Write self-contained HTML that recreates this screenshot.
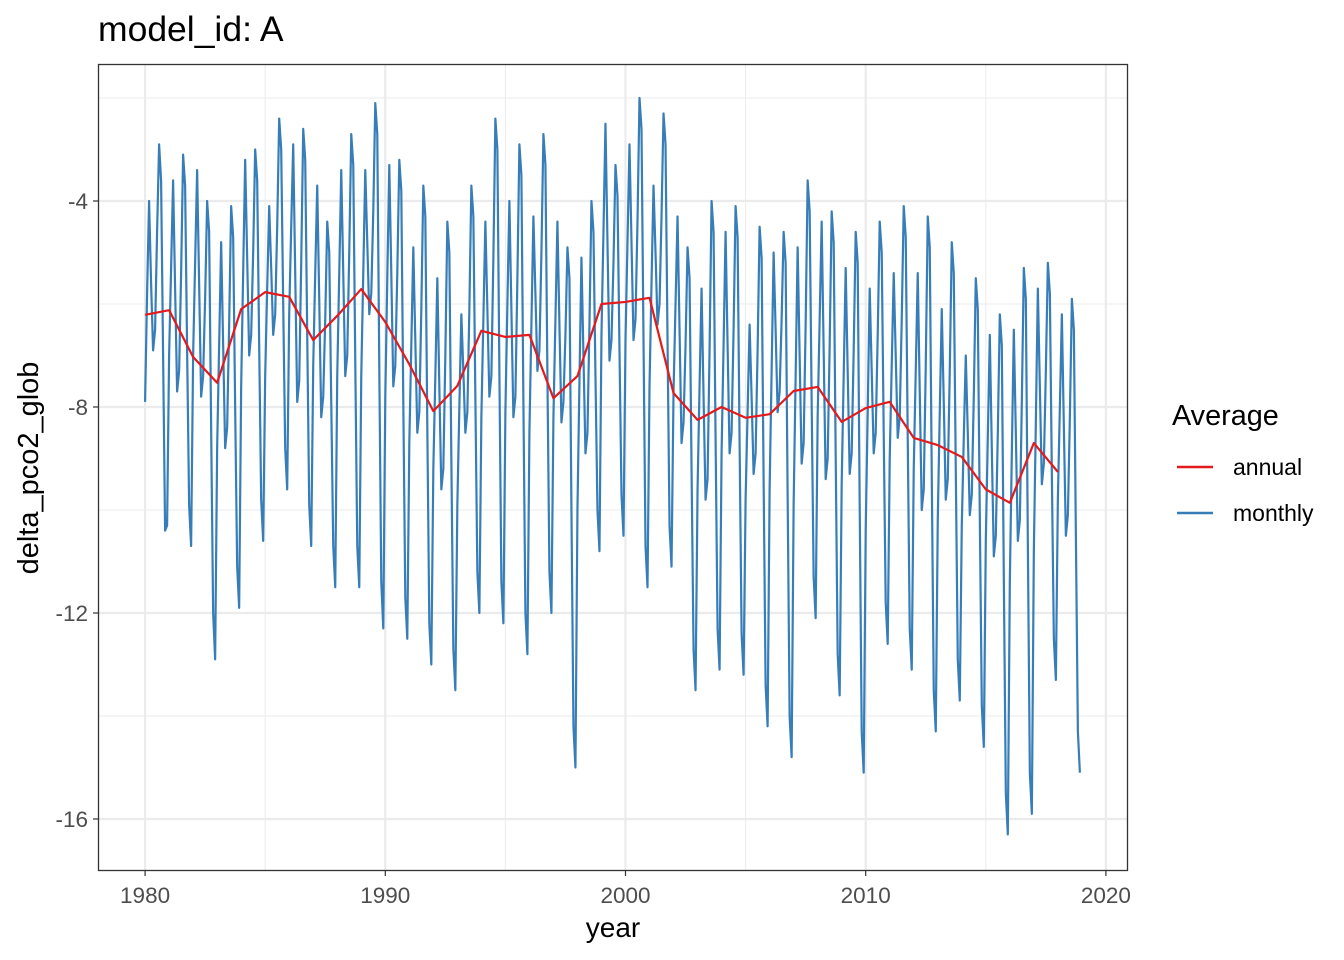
<!DOCTYPE html>
<html><head><meta charset="utf-8"><style>
html,body{margin:0;padding:0;background:#fff;}
svg{display:block;font-family:"Liberation Sans",Arial,sans-serif;}
</style></head><body>
<svg id="chart" width="1344" height="960" viewBox="0 0 1344 960" xmlns="http://www.w3.org/2000/svg">
<rect width="1344" height="960" fill="#fff"/>
<text x="98" y="41" font-size="35.5" fill="#000">model_id: A</text>
<g id="grid"></g>
<g id="series"></g>
<rect x="98.5" y="64.5" width="1029" height="806" fill="none" stroke="#333" stroke-width="1.3"/>
<g id="axes"></g>
<text x="613" y="937" font-size="28" text-anchor="middle" fill="#000">year</text>
<text transform="translate(38,468) rotate(-90)" font-size="29" text-anchor="middle" fill="#000">delta_pco2_glob</text>
<g>
<text x="1172" y="425" font-size="28.8" fill="#000">Average</text>
<line x1="1177" y1="467" x2="1213" y2="467" stroke="#e41a1c" stroke-width="2.4"/>
<text x="1233" y="475" font-size="23" fill="#000">annual</text>
<line x1="1177" y1="513" x2="1213" y2="513" stroke="#377eb8" stroke-width="2.4"/>
<text x="1233" y="521" font-size="23" fill="#000">monthly</text>
</g>
</svg>
<script>
const years = [1980,1981,1982,1983,1984,1985,1986,1987,1988,1989,1990,1991,1992,1993,1994,1995,1996,1997,1998,1999,2000,2001,2002,2003,2004,2005,2006,2007,2008,2009,2010,2011,2012,2013,2014,2015,2016,2017,2018];
const annualValues = [-6.21,-6.12,-7.03,-7.53,-6.10,-5.77,-5.86,-6.70,-6.23,-5.71,-6.35,-7.17,-8.08,-7.59,-6.52,-6.64,-6.60,-7.83,-7.40,-6.00,-5.96,-5.88,-7.73,-8.25,-8.00,-8.21,-8.14,-7.69,-7.61,-8.29,-8.02,-7.90,-8.60,-8.74,-8.97,-9.60,-9.86,-8.70,-9.26];
const monthlyValues = [
-7.9,-5.8,-4.0,-5.6,-6.9,-6.5,-4.6,-2.9,-3.6,-7.0,-10.4,-10.3,
-7.0,-5.3,-3.6,-5.7,-7.7,-7.3,-5.4,-3.1,-3.7,-6.9,-9.9,-10.7,
-7.0,-5.2,-3.4,-5.6,-7.8,-7.4,-5.9,-4.0,-4.6,-8.4,-12.0,-12.9,
-8.8,-6.8,-4.8,-6.8,-8.8,-8.4,-6.4,-4.1,-4.7,-8.0,-11.1,-11.9,
-7.6,-5.4,-3.2,-5.1,-7.0,-6.6,-5.0,-3.0,-3.6,-6.8,-9.8,-10.6,
-7.4,-5.7,-4.1,-5.3,-6.6,-6.2,-4.5,-2.4,-3.0,-6.0,-8.8,-9.6,
-6.2,-4.5,-2.9,-5.4,-7.9,-7.5,-5.2,-2.6,-3.2,-6.6,-9.9,-10.7,
-7.2,-5.4,-3.7,-5.9,-8.2,-7.8,-6.3,-4.4,-5.0,-7.9,-10.7,-11.5,
-7.4,-5.4,-3.4,-5.4,-7.4,-7.0,-5.0,-2.7,-3.3,-7.1,-10.7,-11.5,
-7.4,-5.4,-3.4,-4.8,-6.2,-5.8,-4.2,-2.1,-2.7,-7.2,-11.4,-12.3,
-7.8,-5.5,-3.3,-5.4,-7.6,-7.2,-5.4,-3.2,-3.8,-7.9,-11.7,-12.5,
-8.7,-6.8,-4.9,-6.7,-8.5,-8.1,-6.1,-3.7,-4.3,-8.4,-12.2,-13.0,
-9.2,-7.4,-5.5,-7.6,-9.6,-9.2,-7.0,-4.4,-5.0,-9.0,-12.7,-13.5,
-9.9,-8.0,-6.2,-7.3,-8.5,-8.1,-6.1,-3.7,-4.3,-7.8,-11.2,-12.0,
-8.2,-6.3,-4.4,-6.1,-7.8,-7.4,-5.1,-2.4,-3.0,-7.3,-11.4,-12.2,
-8.1,-6.0,-4.0,-6.1,-8.2,-7.8,-5.5,-2.9,-3.5,-7.9,-12.0,-12.8,
-8.5,-6.4,-4.3,-5.8,-7.3,-6.9,-5.0,-2.7,-3.3,-7.4,-11.2,-12.0,
-8.2,-6.3,-4.4,-6.4,-8.3,-7.9,-6.6,-4.9,-5.5,-10.0,-14.2,-15.0,
-10.0,-7.5,-5.1,-7.0,-8.9,-8.5,-6.4,-4.0,-4.6,-7.4,-10.0,-10.8,
-6.6,-4.6,-2.5,-4.8,-7.1,-6.7,-5.2,-3.3,-3.9,-6.9,-9.7,-10.5,
-6.7,-4.8,-2.9,-4.8,-6.7,-6.3,-4.4,-2.0,-2.6,-6.7,-10.7,-11.5,
-7.6,-5.6,-3.7,-5.0,-6.4,-6.0,-4.3,-2.3,-2.9,-6.7,-10.3,-11.1,
-7.7,-6.0,-4.3,-6.5,-8.7,-8.3,-6.8,-4.9,-5.5,-9.2,-12.7,-13.5,
-9.6,-7.6,-5.7,-7.8,-9.8,-9.4,-6.9,-4.0,-4.6,-8.6,-12.3,-13.1,
-8.9,-6.8,-4.6,-6.8,-8.9,-8.5,-6.5,-4.1,-4.7,-8.7,-12.4,-13.2,
-9.8,-8.1,-6.4,-7.8,-9.3,-8.9,-6.9,-4.5,-5.1,-9.4,-13.4,-14.2,
-9.6,-7.3,-5.0,-6.5,-8.1,-7.7,-6.3,-4.6,-5.2,-9.7,-14.0,-14.8,
-9.9,-7.4,-4.9,-7.0,-9.1,-8.7,-6.4,-3.6,-4.2,-7.9,-11.3,-12.1,
-8.2,-6.3,-4.4,-6.9,-9.4,-9.0,-6.8,-4.2,-4.8,-8.9,-12.8,-13.6,
-9.5,-7.4,-5.3,-7.3,-9.3,-8.9,-6.9,-4.6,-5.2,-9.9,-14.3,-15.1,
-10.4,-8.1,-5.7,-7.3,-8.9,-8.5,-6.6,-4.4,-5.0,-8.5,-11.8,-12.6,
-9.0,-7.2,-5.4,-7.0,-8.6,-8.2,-6.3,-4.1,-4.7,-8.6,-12.3,-13.1,
-9.2,-7.3,-5.4,-7.7,-10.0,-9.6,-7.2,-4.3,-4.9,-9.3,-13.5,-14.3,
-10.2,-8.1,-6.1,-7.9,-9.8,-9.4,-7.3,-4.8,-5.4,-9.2,-12.9,-13.7,
-10.3,-8.6,-7.0,-8.5,-10.1,-9.7,-7.8,-5.5,-6.1,-10.1,-13.8,-14.6,
-10.6,-8.6,-6.6,-8.8,-10.9,-10.5,-8.5,-6.2,-6.8,-11.3,-15.5,-16.3,
-11.4,-8.9,-6.5,-8.5,-10.6,-10.2,-7.9,-5.3,-5.9,-10.6,-15.1,-15.9,
-10.8,-8.3,-5.7,-7.6,-9.5,-9.1,-7.3,-5.2,-5.8,-9.3,-12.5,-13.3,
-9.8,-8.0,-6.2,-8.4,-10.5,-10.1,-8.2,-5.9,-6.5,-10.5,-14.3,-15.1
];
const xTicks = [1980,1990,2000,2010,2020];
const xMinor = [1985,1995,2005,2015];
const yTicks = [-4,-8,-12,-16];
const yMinor = [-2,-6,-10,-14];

const X0=98,X1=1128,Y0=64,Y1=871;
const xMin=1978.04,xMax=2020.92,yMin=-17.01,yMax=-1.34;
function sx(v){return X0+(v-xMin)/(xMax-xMin)*(X1-X0);}
function sy(v){return Y1-(v-yMin)/(yMax-yMin)*(Y1-Y0);}
const NS='http://www.w3.org/2000/svg';
function mk(tag,attrs,parent){const e=document.createElementNS(NS,tag);for(const k in attrs)e.setAttribute(k,attrs[k]);parent.appendChild(e);return e;}
const grid=document.getElementById('grid'),axes=document.getElementById('axes'),series=document.getElementById('series');
mk('rect',{x:X0,y:Y0,width:X1-X0,height:Y1-Y0,fill:'#fff'},grid);
yMinor.forEach(v=>{const l=mk('line',{x1:X0,x2:X1,y1:sy(v),y2:sy(v),stroke:'#ebebeb','stroke-width':1},grid);

});
xMinor.forEach(v=>{const l=mk('line',{x1:sx(v),x2:sx(v),y1:Y0,y2:Y1,stroke:'#ebebeb','stroke-width':1},grid);

});
yTicks.forEach(v=>{const y=sy(v);
const l=mk('line',{x1:X0,x2:X1,y1:y,y2:y,stroke:'#ebebeb','stroke-width':2.2},grid);


const t=mk('line',{x1:X0-5,x2:X0,y1:y,y2:y,stroke:'#333','stroke-width':1.2},axes);


const tx=mk('text',{x:X0-10,y:y+8,'font-size':22.5,'text-anchor':'end',fill:'#4d4d4d'},axes);tx.textContent=String(v);

});
xTicks.forEach(v=>{const x=sx(v);
const l=mk('line',{x1:x,x2:x,y1:Y0,y2:Y1,stroke:'#ebebeb','stroke-width':2.2},grid);


const t=mk('line',{x1:x,x2:x,y1:Y1,y2:Y1+5,stroke:'#333','stroke-width':1.2},axes);


const tx=mk('text',{x:x,y:Y1+32,'font-size':22.5,'text-anchor':'middle',fill:'#4d4d4d'},axes);tx.textContent=v;

});
let d='';
monthlyValues.forEach((v,i)=>{const t=years[0]+i/12;d+=(i?'L':'M')+sx(t).toFixed(2)+','+sy(v).toFixed(2);});
const pm=mk('path',{d:d,fill:'none',stroke:'#377eb8','stroke-width':2.2,'stroke-linejoin':'round'},series);


let d2='';
annualValues.forEach((v,i)=>{d2+=(i?'L':'M')+sx(years[i]).toFixed(2)+','+sy(v).toFixed(2);});
const pa=mk('path',{d:d2,fill:'none',stroke:'#e41a1c','stroke-width':2.2,'stroke-linejoin':'round'},series);


</script>
</body></html>
